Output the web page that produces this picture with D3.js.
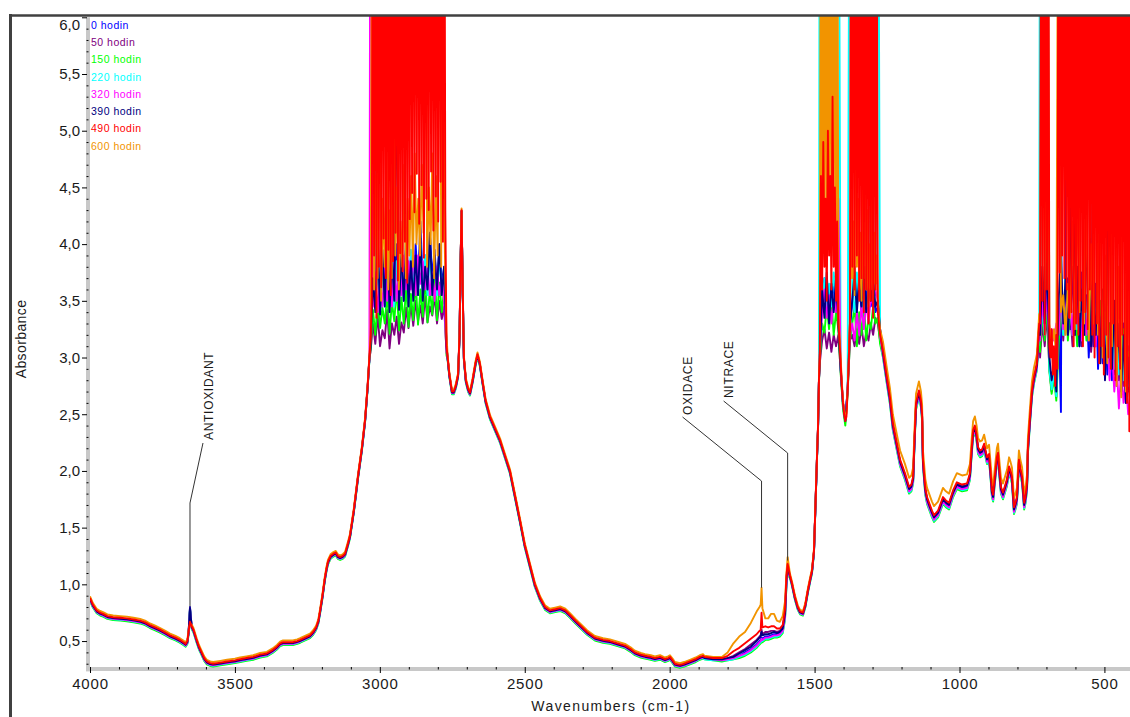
<!DOCTYPE html>
<html>
<head>
<meta charset="utf-8">
<script src="https://cdn.jsdelivr.net/npm/d3@7"></script>
<style>
  body { margin: 0; background: #fff; }
  svg { display: block; font-family: "Liberation Sans", Arial, sans-serif; }
</style>
</head>
<body>
<svg id="chart" width="1130" height="717"></svg>
<script>
// ---- Series: FTIR spectra of an oil sample after increasing ageing time ----
const seriesNames  = ["0 hodin", "50 hodin", "150 hodin", "220 hodin", "320 hodin", "390 hodin", "490 hodin", "600 hodin"];
const seriesColors = ["#0000ff", "#800080", "#00ff00", "#00ffff", "#ff00ff", "#000080", "#ff0000", "#f29400"];
const drawOrder    = [0, 1, 2, 3, 4, 5, 7, 6];

// ---- Axis ticks ----
const xMajorTicks = [4000, 3500, 3000, 2500, 2000, 1500, 1000, 500];
const xMinorTicks = d3.range(3900, 400, -100).filter(v => v % 500 !== 0);
const yMajorTicks = [0.5, 1.0, 1.5, 2.0, 2.5, 3.0, 3.5, 4.0, 4.5, 5.0, 5.5, 6.0];
const yMinorTicks = d3.range(0.3, 6.0, 0.1).map(v => +v.toFixed(1)).filter(v => Math.round(v * 10) % 5 !== 0);

// ---- Common spectrum shape [wavenumber, absorbance] outside the saturated bands ----
const baseSpectrum = [
  [4000,0.88],[3990,0.82],[3977,0.77],[3965,0.75],[3955,0.74],[3940,0.72],[3920,0.71],[3895,0.705],
  [3873,0.70],[3850,0.69],[3827,0.68],[3810,0.665],[3793,0.64],[3775,0.62],[3758,0.60],[3740,0.575],
  [3724,0.55],[3705,0.53],[3690,0.51],[3678,0.49],[3670,0.475],[3664,0.50],[3660,0.58],
  [3649,0.63],[3643,0.60],[3632,0.51],[3624,0.45],[3615,0.40],[3606,0.35],[3597,0.32],[3585,0.305],
  [3575,0.30],[3550,0.31],[3527,0.32],[3500,0.33],[3482,0.34],[3460,0.35],[3437,0.36],[3413,0.38],
  [3390,0.39],[3370,0.42],[3355,0.45],[3344,0.48],[3334,0.49],[3315,0.49],[3300,0.49],[3285,0.50],
  [3275,0.51],[3258,0.53],[3241,0.55],[3230,0.58],[3220,0.62],[3212,0.68],[3206,0.77],[3198,0.90],
  [3190,1.05],[3184,1.14],[3179,1.20],[3170,1.25],[3160,1.27],[3152,1.28],[3145,1.25],[3137,1.24],
  [3128,1.25],[3120,1.27],[3110,1.36],[3103,1.43],[3090,1.65],[3075,1.96],[3062,2.20],[3051,2.45],
  [3042,2.75],[3036,3.0],
  [2766,3.0],[2760,2.85],[2751,2.70],[2745,2.70],[2738,2.75],[2730,2.85],[2725,3.2],[2721,3.9],
  [2718,4.3],[2714,3.6],[2710,3.0],[2703,2.80],[2695,2.72],[2689,2.69],[2680,2.8],[2670,2.95],
  [2663,3.03],[2655,2.95],[2645,2.78],[2635,2.62],[2620,2.48],[2600,2.36],[2585,2.27],[2570,2.15],
  [2551,2.0],[2535,1.8],[2516,1.56],[2500,1.35],[2482,1.17],[2465,1.0],[2447,0.88],[2430,0.80],
  [2413,0.77],[2395,0.78],[2378,0.79],[2360,0.77],[2344,0.73],[2325,0.68],[2309,0.64],[2285,0.58],
  [2258,0.53],[2230,0.51],[2206,0.50],[2180,0.48],[2154,0.46],[2135,0.43],[2120,0.40],[2100,0.38],
  [2085,0.37],[2065,0.36],[2051,0.35],[2033,0.36],[2016,0.34],[2005,0.35],[1999,0.36],[1990,0.33],
  [1982,0.30],[1964,0.29],[1950,0.30],[1930,0.32],[1910,0.34],[1896,0.36],[1885,0.37],
  [1585,1.08],[1578,1.01],[1568,0.89],[1558,0.80],[1550,0.76],[1540,0.75],[1532,0.82],[1523,0.95],
  [1515,1.05],[1509,1.12],[1502,1.3],[1497,1.7],[1492,2.1],[1488,2.4],[1485,2.8],
  [1264,3.06],[1252,2.85],[1240,2.65],[1230,2.42],[1216,2.24],[1205,2.10],[1188,1.98],[1174,1.86],
  [1166,1.88],[1160,1.95],[1155,2.3],[1150,2.6],[1140,2.71],[1133,2.62],[1129,2.5],[1126,2.1],
  [1118,1.85],[1112,1.77],[1095,1.65],[1088,1.61],[1074,1.65],[1057,1.77],[1047,1.74],[1036,1.72],
  [1022,1.83],[1009,1.90],[991,1.88],[974,1.89],[964,1.98],[958,2.2],[953,2.36],[947,2.40],
  [941,2.32],[936,2.21],[929,2.18],[922,2.19],[915,2.24],[910,2.18],[905,2.12],[898,2.15],
  [893,2.0],[888,1.83],[884,1.79],[878,1.95],[871,2.12],[867,2.16],[862,2.0],[857,1.86],
  [850,1.81],[843,1.87],[836,1.93],[829,2.04],[824,2.0],[819,1.95],[812,1.68],[807,1.72],
  [802,1.77],[795,2.10],[790,2.02],[784,1.95],[777,1.72],[772,1.78],[767,1.89],[764,2.21],
  [757,2.47],[750,2.71],[743,2.83],[737,2.90],[733,2.95],[729,3.13],[725,3.3]
];

// Per-series offset of the common shape (below / above the fingerprint edge)
const fingerprintEdge  = 1290;
const shiftBroad       = [-0.01, -0.008, -0.025, -0.018, -0.014, -0.008, 0, 0.015];
const shiftFingerprint = [-0.03, -0.015, -0.06, -0.05, -0.04, -0.02, 0, 0.08];

// Antioxidant O-H band (decreases with ageing)
const antioxidantWn   = 3655;
const antioxidantPeak = [0.80, 0.79, 0.78, 0.78, 0.77, 0.79, 0.67, 0.65];

// Oxidation / nitration region, one row per series
const divergenceWn = [1880, 1850, 1820, 1800, 1780, 1760, 1740, 1720, 1700, 1690, 1686, 1683, 1680, 1670, 1660, 1650, 1640, 1630, 1620, 1610, 1602, 1597, 1593];
const divergence = [
  [0.35,0.34,0.33,0.34,0.35,0.37,0.40,0.43,0.47,0.50,0.51,0.53,0.52,0.54,0.54,0.55,0.56,0.56,0.57,0.60,0.72,1.02,1.13],
  [0.35,0.34,0.34,0.35,0.37,0.40,0.43,0.47,0.51,0.54,0.55,0.60,0.56,0.58,0.58,0.59,0.59,0.58,0.59,0.62,0.75,1.05,1.16],
  [0.34,0.33,0.32,0.33,0.34,0.35,0.37,0.40,0.44,0.47,0.48,0.49,0.49,0.51,0.51,0.52,0.53,0.53,0.54,0.57,0.69,0.99,1.10],
  [0.34,0.33,0.33,0.33,0.34,0.36,0.38,0.41,0.45,0.48,0.49,0.50,0.50,0.52,0.52,0.53,0.54,0.54,0.55,0.58,0.70,1.00,1.11],
  [0.35,0.34,0.33,0.34,0.35,0.37,0.39,0.42,0.46,0.49,0.50,0.52,0.51,0.53,0.53,0.54,0.55,0.55,0.56,0.59,0.71,1.01,1.12],
  [0.35,0.34,0.34,0.35,0.36,0.39,0.42,0.45,0.50,0.53,0.54,0.58,0.55,0.56,0.56,0.57,0.58,0.57,0.58,0.61,0.74,1.04,1.15],
  [0.36,0.35,0.35,0.37,0.41,0.44,0.48,0.52,0.56,0.59,0.60,0.75,0.62,0.63,0.62,0.63,0.63,0.61,0.61,0.64,0.78,1.08,1.18],
  [0.37,0.36,0.36,0.40,0.48,0.54,0.58,0.66,0.76,0.80,0.82,0.97,0.79,0.70,0.70,0.74,0.74,0.68,0.67,0.72,0.85,1.10,1.24]
];

// Saturated C-H stretching band, 3032 -> 2770 cm-1 (readings above 6 run off scale)
const band1Range = [3032, 2770];
const band1 = [
  [3.1,3.6,3.45,3.9,3.4,3.8,3.5,4.2,3.45,3.9,3.5,4.0,3.55,3.85,3.5,4.1,3.6,3.9,3.55,4.0,3.6,4.2,3.65,3.9,3.6,4.1,3.7,3.95,3.6,4.0,3.65,3.8,3.1],
  [3.05,3.3,3.12,3.38,3.1,3.24,3.17,3.42,3.08,3.3,3.2,3.36,3.12,3.31,3.22,3.44,3.26,3.47,3.28,3.5,3.32,3.46,3.3,3.54,3.31,3.45,3.37,3.55,3.3,3.5,3.34,3.45,3.05],
  [3.08,3.42,3.2,3.5,3.26,3.44,3.3,3.57,3.21,3.49,3.32,3.62,3.24,3.53,3.3,3.64,3.27,3.56,3.33,3.68,3.29,3.6,3.36,3.72,3.31,3.61,3.38,3.76,3.33,3.66,3.4,3.6,3.02],
  [3.15,9,3.5,3.8,3.4,3.75,3.45,3.9,3.5,3.8,3.45,3.85,3.5,3.9,3.55,3.8,3.5,3.95,3.6,3.85,3.55,4.0,3.6,3.9,3.55,3.95,3.6,3.85,3.55,3.9,3.6,3.75,3.1],
  [9,3.45,3.75,3.4,3.7,3.45,3.8,3.5,3.75,3.45,3.85,3.5,3.8,3.55,3.9,3.6,3.85,3.6,3.95,3.55,3.9,3.65,3.85,3.6,3.8,3.55,3.75,3.5,3.8,3.55,3.7,3.5,3.05],
  [3.1,3.7,3.4,4.1,3.38,3.95,3.45,4.2,3.4,3.9,3.5,5.6,3.42,3.95,3.5,4.0,3.45,3.85,3.5,3.9,3.55,4.05,3.5,3.8,3.6,4.1,3.55,3.9,3.6,4.0,3.55,3.8,3.1],
  [3.15,3.5,9,3.9,9,3.35,9,3.8,9,3.62,9,4.05,9,3.7,9,3.95,8,3.55,9,3.85,9,4.1,9,3.68,9,3.92,9,3.76,9,4.02,9,3.66,9,4.22,9,4.45,9,4.28,9,4.62,9,4.18,9,4.52,9,3.88,9,4.4,9,4.3,9,4.64,9,4.12,9,4.42,9,4.2,9,4.55,9,4.02,9,4.3,3.1],
  [3.2,9,3.6,4.6,3.7,9,3.5,4.4,3.8,4.9,3.6,4.3,3.7,9,3.9,4.5,3.6,4.2,3.8,4.7,3.7,4.4,3.9,4.6,3.8,4.8,4.0,4.4,3.9,4.7,4.1,9,3.8,4.5,4.0,4.8,3.7,4.6,3.9,9,3.8,9,4.0,3.2]
];

// Saturated CH2/CH3 bending band, 1482 -> 1274 cm-1
const band2Range = [1482, 1274];
const band2 = [
  [3.0,3.5,3.7,3.45,3.6,3.4,3.65,3.5,3.3,2.92,2.6,2.45,2.72,3.25,3.5,3.8,3.45,3.7,3.4,3.65,3.5,3.75,3.45,3.6,3.4,3.45,3.25],
  [2.95,3.15,3.25,3.08,3.22,3.05,3.2,3.1,3.2,2.88,2.57,2.43,2.7,3.15,3.2,3.1,3.25,3.12,3.28,3.1,3.22,3.15,3.3,3.2,3.35,3.3,3.15],
  [2.98,3.3,3.22,3.45,3.25,3.5,3.2,3.4,3.25,2.86,2.55,2.4,2.68,3.15,3.3,3.45,3.1,3.4,3.2,3.5,3.15,3.35,3.25,3.45,3.3,3.35,3.12],
  [9,3.45,3.7,3.4,3.65,3.45,3.75,3.5,9,2.9,2.58,2.44,2.7,9,3.55,3.4,3.75,3.5,3.65,3.4,3.8,3.55,9,3.5,3.7,9,3.2],
  [3.05,3.4,3.6,3.35,3.55,3.3,3.5,3.4,4.4,2.9,2.6,2.45,2.72,3.2,3.3,3.15,3.4,3.2,3.45,3.25,3.5,3.3,3.55,3.45,3.6,3.5,3.2],
  [3.0,3.6,3.35,3.75,3.3,3.65,3.4,3.7,3.3,2.9,2.6,2.44,2.72,3.3,3.5,3.75,3.4,3.7,3.45,3.8,3.4,3.65,3.5,3.7,3.45,3.5,3.25],
  [3.0,4.6,3.6,4.9,3.8,4.4,3.5,5.0,3.9,4.6,3.6,5.3,3.8,4.5,3.5,4.2,3.3,3.15,2.95,2.75,2.6,2.5,2.44,2.48,2.7,2.95,3.3,9,3.8,9,3.6,9,3.9,9,3.5,9,3.7,9,3.4,9,3.6,9,3.3,9,3.5,9,3.35,9,3.6,8,3.4,3.3,3.2],
  [3.05,9,3.9,9,4.1,9,3.8,9,4.2,9,3.9,9,4.0,9,3.7,9,3.35,3.2,3.0,2.78,2.63,2.53,2.47,2.51,2.73,3.0,3.35,4.6,3.7,4.2,3.55,9,3.8,4.4,3.6,4.1,3.5,4.5,3.7,9,3.6,4.3,3.45,4.0,3.6,4.4,3.5,4.1,3.65,3.9,3.5,3.35,3.25]
];

// Saturated low-wavenumber band, 722 -> 402 cm-1
const band3Range = [722, 402];
const band3 = [
  [3.1,3.6,3.2,3.7,2.95,2.75,2.9,2.65,3.4,2.52,9,3.3,3.7,3.25,3.8,3.2,3.6,3.1,3.75,3.2,3.55,3.0,3.5,3.1,3.65,2.9,3.4,2.95,3.5,2.85,3.3,2.8,3.4,2.75,3.2,2.7,3.3,2.6,3.1,2.5,2.9],
  [3.0,3.3,3.1,3.4,2.9,2.7,2.85,2.7,3.2,3.45,3.15,3.5,3.2,3.4,3.1,3.45,3.15,3.35,3.1,3.5,3.2,3.4,3.05,3.3,3.1,3.45,3.0,3.3,2.95,3.35,2.9,3.2,2.85,3.3,2.8,3.1,2.75,3.2,2.7,3.0,2.65],
  [3.05,3.4,3.15,3.5,2.88,2.68,2.82,2.62,3.1,3.5,3.2,3.6,3.15,3.5,3.2,3.45,3.1,3.55,3.25,3.4,3.15,3.6,3.2,3.45,9,3.25,3.5,3.1,3.4,3.0,3.3,2.95,3.35,2.9,3.2,2.8,3.25,2.75,3.05,2.7,2.95],
  [9,3.4,3.2,9,2.9,2.72,2.86,2.66,3.3,3.6,3.2,3.7,3.3,3.5,3.2,3.65,3.25,3.55,3.2,3.7,3.3,3.5,3.15,3.6,3.2,3.45,3.1,3.5,3.05,3.4,3.0,3.3,2.9,3.35,2.85,3.2,2.8,3.1,2.75,3.0,2.6],
  [3.15,3.5,3.25,3.6,3.0,3.25,3.15,3.3,3.2,3.55,3.25,3.6,3.3,3.5,3.2,3.65,3.3,3.5,3.15,3.45,3.2,3.6,3.25,3.4,3.1,3.5,3.15,3.3,3.0,3.2,2.8,3.1,2.7,2.95,2.55,2.9,2.6,2.8,2.5,2.7,2.45],
  [3.2,3.8,3.3,3.9,3.0,2.8,2.95,2.7,3.5,3.9,3.3,3.7,3.2,3.6,9,3.2,3.8,3.1,3.6,3.2,3.9,9,3.1,3.5,3.2,3.8,2.95,3.6,2.8,3.4,9,2.9,3.5,2.85,3.3,2.7,3.2,2.6,3.0,2.5,2.9],
  [3.3,9,3.5,9,3.2,9,3.6,9,3.1,3.0,3.25,2.85,3.1,2.75,3.2,2.9,9,3.75,9,3.9,9,3.7,9,3.6,9,3.35,9,3.4,9,3.1,9,3.3,9,3.2,9,3.5,9,3.1,9,3.4,9,3.25,9,3.6,9,3.2,9,3.0,9,3.3,9,2.95,9,3.1,9,2.85,9,3.2,9,3.0,9,2.9,9,3.3,9,2.8,9,3.1,9,2.9,9,3.2,9,2.75,9,2.6,9,2.35,9,2.5,9],
  [3.4,9,3.6,9,3.3,3.1,3.25,3.0,9,3.4,3.55,3.2,3.65,3.35,4.2,3.25,4.5,3.4,9,3.3,4.4,3.15,4.0,3.3,9,3.2,4.3,3.0,3.9,2.95,4.6,3.1,9,2.75,3.8,2.65,9,2.7,3.6,2.55,9]
];

// Labelled bands: leader drops to the tallest trace at the band position
const annotationLabels = ["ANTIOXIDANT", "OXIDACE", "NITRACE"];
const annotationWn     = [3655, 1683, 1593];
const annotationPeak   = [0.80, 0.97, 1.21];

// ---- Layout ----
const W = 1130, H = 717;
const plotLeft = 90, plotRight = 1133.4, plotTop = 17.3, plotBottom = 669.4;
const annotationLayout = [
  { bendY: 503, dx: 13,  dy: -60, textDx: 10, textDy: -3 },
  { bendY: 481, dx: -79, dy: -64, textDx: 9,  textDy: -2 },
  { bendY: 453, dx: -64, dy: -52, textDx: 9,  textDy: -3 }
];

const svg = d3.select("#chart");
const x = d3.scaleLinear().domain([4000, 400]).range([plotLeft, plotRight]);
const y = d3.scaleLinear().domain([0.25, 6.0]).range([plotBottom, plotTop]);

const commaFmt = d3.formatLocale({ decimal: ",", thousands: " ", grouping: [3], currency: ["", ""] }).format(".1f");

// Assemble one trace from the shared shape plus the per-series parts
const bands = [
  { range: band1Range, values: band1 },
  { range: band2Range, values: band2 },
  { range: band3Range, values: band3 }
];
function seriesPoints(s) {
  const pts = baseSpectrum.map(([w, v]) => [w, v + (w < fingerprintEdge ? shiftFingerprint[s] : shiftBroad[s])]);
  pts.push([antioxidantWn, antioxidantPeak[s]]);
  divergenceWn.forEach((w, i) => pts.push([w, divergence[s][i]]));
  bands.forEach(b => {
    const vals = b.values[s];
    const at = d3.scaleLinear().domain([0, vals.length - 1]).range(b.range);
    vals.forEach((v, i) => pts.push([at(i), v]));
  });
  return pts.sort((a, b) => b[0] - a[0]);
}

// Axis bars (grey)
svg.append("rect").attr("x", 86).attr("y", plotTop).attr("width", 4).attr("height", plotBottom - plotTop + 2).attr("fill", "#c8c8c8");
svg.append("rect").attr("x", 86).attr("y", 667).attr("width", plotRight - 86).attr("height", 4).attr("fill", "#c8c8c8");

// Clip for traces
svg.append("defs").append("clipPath").attr("id", "plotClip")
  .append("rect").attr("x", plotLeft).attr("y", plotTop - 2).attr("width", plotRight - plotLeft).attr("height", plotBottom - plotTop + 2);

const line = d3.line().x(d => x(d[0])).y(d => y(d[1]));
svg.append("g").attr("clip-path", "url(#plotClip)")
  .selectAll("path").data(drawOrder).join("path")
  .attr("d", s => line(seriesPoints(s)))
  .attr("fill", "none")
  .attr("stroke", s => seriesColors[s])
  .attr("stroke-width", 1.9)
  .attr("stroke-linejoin", "round");

// Y axis
const yAxisG = svg.append("g").attr("transform", "translate(87,0)")
  .call(d3.axisLeft(y).tickValues(yMajorTicks).tickSize(5).tickPadding(2).tickFormat(commaFmt));
svg.append("g").attr("transform", "translate(88.5,0)")
  .call(d3.axisLeft(y).tickValues(yMinorTicks).tickSize(2).tickFormat(""));
// X axis
const xAxisG = svg.append("g").attr("transform", "translate(0,667)")
  .call(d3.axisBottom(x).tickValues(xMajorTicks).tickSize(6).tickPadding(5).tickFormat(d3.format("d")));
svg.append("g").attr("transform", "translate(0,667)")
  .call(d3.axisBottom(x).tickValues(xMinorTicks).tickSize(2.5).tickFormat(""));

svg.selectAll(".domain").remove();
svg.selectAll(".tick line").attr("stroke", "#000").attr("stroke-width", 1);
yAxisG.selectAll("text").attr("font-size", 15).attr("fill", "#1a1a1a").attr("font-family", "Liberation Sans, Arial, sans-serif");
yAxisG.selectAll(".tick").filter(d => d === 6.0).select("text").attr("dy", "0.84em");
xAxisG.selectAll("text").attr("font-size", 15).attr("fill", "#1a1a1a").attr("letter-spacing", 0.8).attr("font-family", "Liberation Sans, Arial, sans-serif");

// Axis titles
svg.append("text").attr("transform", "translate(26,339) rotate(-90)")
  .attr("text-anchor", "middle").attr("font-size", 14).attr("letter-spacing", 0.4).attr("fill", "#1a1a1a")
  .text("Absorbance");
svg.append("text").attr("x", 611).attr("y", 711)
  .attr("text-anchor", "middle").attr("font-size", 14).attr("letter-spacing", 1.4).attr("fill", "#1a1a1a")
  .text("Wavenumbers (cm-1)");

// Legend (coloured labels only)
svg.append("g").selectAll("text").data(seriesNames).join("text")
  .attr("x", 91).attr("y", (d, i) => 28.8 + i * 17.25)
  .attr("font-size", 10.5).attr("letter-spacing", 0.5)
  .attr("fill", (d, i) => seriesColors[i])
  .text(d => d);

// Band annotations with leader lines
annotationLabels.forEach((label, i) => {
  const L = annotationLayout[i];
  const px = x(annotationWn[i]);
  const peakY = y(annotationPeak[i]);
  const endX = px + L.dx, endY = L.bendY + L.dy;
  svg.append("path")
    .attr("d", `M${px},${peakY}L${px},${L.bendY}L${endX},${endY}`)
    .attr("fill", "none").attr("stroke", "#333").attr("stroke-width", 1);
  svg.append("text")
    .attr("transform", `translate(${endX + L.textDx},${endY + L.textDy}) rotate(-90)`)
    .attr("font-size", 12).attr("letter-spacing", 0.7).attr("fill", "#1a1a1a")
    .text(label);
});

// Outer frame
svg.append("line").attr("x1", 9).attr("x2", W).attr("y1", 15.5).attr("y2", 15.5).attr("stroke", "#404040").attr("stroke-width", 2.5);
svg.append("line").attr("x1", 10.5).attr("x2", 10.5).attr("y1", 14).attr("y2", H).attr("stroke", "#404040").attr("stroke-width", 3);
</script>
</body>
</html>
